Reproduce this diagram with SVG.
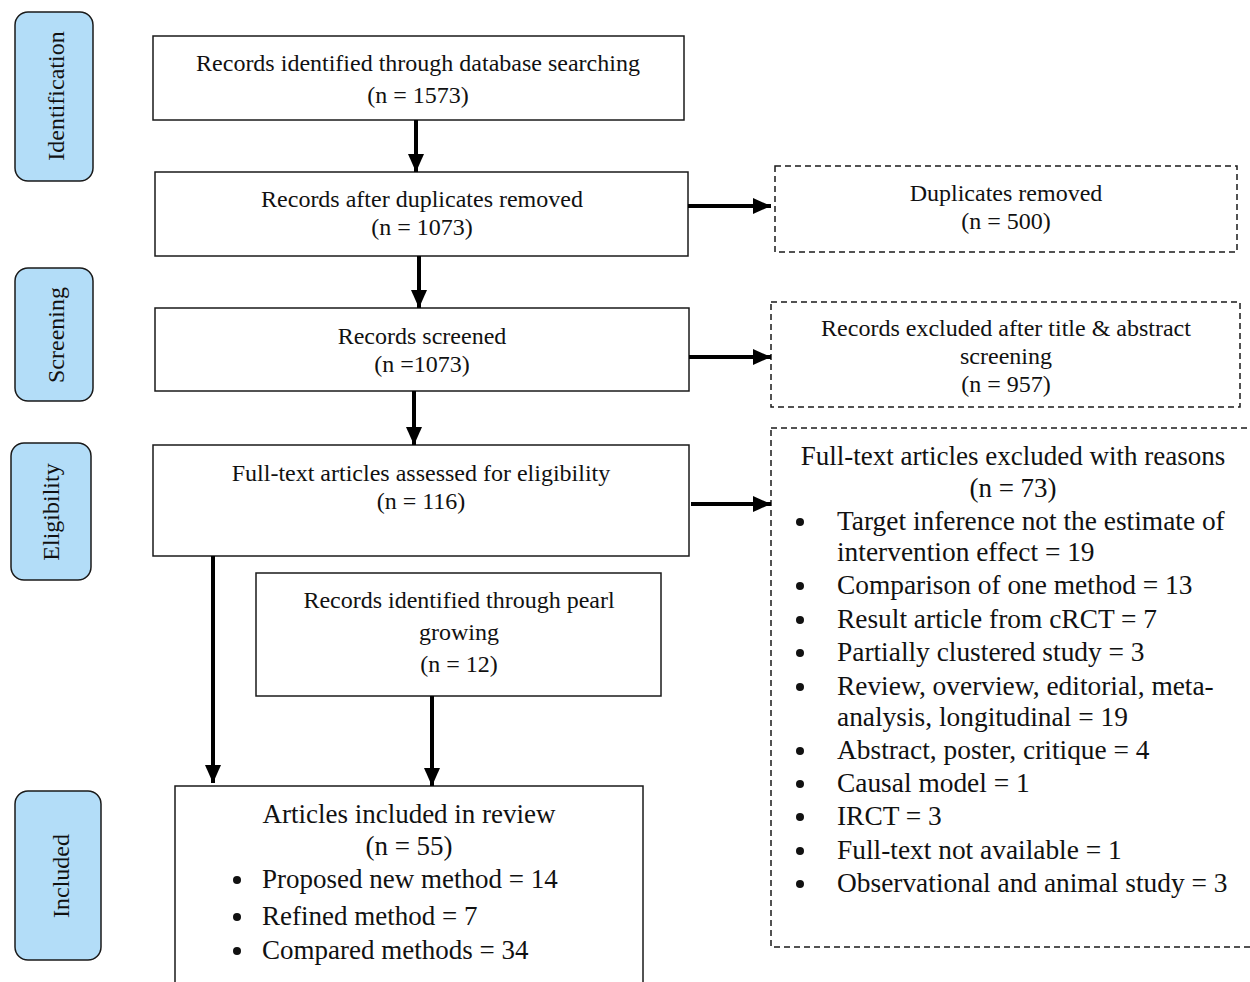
<svg xmlns="http://www.w3.org/2000/svg" width="1250" height="982" viewBox="0 0 1250 982">
<style>
  .box { fill: #ffffff; stroke: #1a1a1a; stroke-width: 1.5; }
  .dash { fill: #ffffff; stroke: #1a1a1a; stroke-width: 1.5; stroke-dasharray: 6 4; }
  .phase { fill: #b3ddf8; stroke: #1a1a1a; stroke-width: 1.5; }
  .t { font-family: "Liberation Serif", "Times New Roman", serif; font-size: 24px; fill: #111; text-anchor: middle; }
  .tl { font-family: "Liberation Serif", "Times New Roman", serif; font-size: 27px; fill: #111; }
  .tb { font-family: "Liberation Serif", "Times New Roman", serif; font-size: 27.4px; fill: #111; }
  .tc { font-family: "Liberation Serif", "Times New Roman", serif; font-size: 27px; fill: #111; text-anchor: middle; }
  .ph { font-family: "Liberation Serif", "Times New Roman", serif; font-size: 24px; fill: #111; text-anchor: middle; }
  .conn { stroke: #000; stroke-width: 4; fill: none; marker-end: url(#arrow); }
  .dot { fill: #111; }
</style>
<defs>
  <marker id="arrow" markerUnits="userSpaceOnUse" markerWidth="18" markerHeight="16" refX="18" refY="8" orient="auto">
    <polygon points="0,0 18,8 0,16" fill="#000"/>
  </marker>
</defs>
<rect x="0" y="0" width="1250" height="982" fill="#ffffff"/>

<g id="phase-identification">
  <rect class="phase" x="15" y="12" width="78" height="169" rx="13"/>
  <text class="ph" transform="translate(64,96) rotate(-90)">Identification</text>
</g>
<g id="phase-screening">
  <rect class="phase" x="15" y="268" width="78" height="133" rx="13"/>
  <text class="ph" transform="translate(64,335) rotate(-90)">Screening</text>
</g>
<g id="phase-eligibility">
  <rect class="phase" x="11" y="443" width="80" height="137" rx="13"/>
  <text class="ph" transform="translate(59,512) rotate(-90)">Eligibility</text>
</g>
<g id="phase-included">
  <rect class="phase" x="15" y="791" width="86" height="169" rx="13"/>
  <text class="ph" transform="translate(69,876) rotate(-90)">Included</text>
</g>

<g id="node-identified">
  <rect class="box" x="153" y="36" width="531" height="84"/>
  <text class="t" x="418" y="71">Records identified through database searching</text>
  <text class="t" x="418" y="103">(n = 1573)</text>
</g>
<g id="node-deduplicated">
  <rect class="box" x="155" y="172" width="533" height="84"/>
  <text class="t" x="422" y="207">Records after duplicates removed</text>
  <text class="t" x="422" y="235">(n = 1073)</text>
</g>
<g id="node-duplicates">
  <rect class="dash" x="775" y="166" width="462" height="86"/>
  <text class="t" x="1006" y="201">Duplicates removed</text>
  <text class="t" x="1006" y="229">(n = 500)</text>
</g>
<g id="node-screened">
  <rect class="box" x="155" y="308" width="534" height="83"/>
  <text class="t" x="422" y="344">Records screened</text>
  <text class="t" x="422" y="372">(n =1073)</text>
</g>
<g id="node-excluded-title">
  <rect class="dash" x="771" y="302" width="469" height="105"/>
  <text class="t" x="1006" y="336">Records excluded after title &amp; abstract</text>
  <text class="t" x="1006" y="364">screening</text>
  <text class="t" x="1006" y="392">(n = 957)</text>
</g>
<g id="node-fulltext">
  <rect class="box" x="153" y="445" width="536" height="111"/>
  <text class="t" x="421" y="481">Full-text articles assessed for eligibility</text>
  <text class="t" x="421" y="509">(n = 116)</text>
</g>
<g id="node-excluded-fulltext">
  <rect class="dash" x="771" y="428" width="490" height="519"/>
  <text class="tc" x="1013" y="465">Full-text articles excluded with reasons</text>
  <text class="tc" x="1013" y="497">(n = 73)</text>
  <circle class="dot" cx="800" cy="522" r="4"/>
  <text class="tb" x="837" y="530">Target inference not the estimate of</text>
  <text class="tb" x="837" y="561">intervention effect = 19</text>
  <circle class="dot" cx="800" cy="586" r="4"/>
  <text class="tb" x="837" y="594">Comparison of one method = 13</text>
  <circle class="dot" cx="800" cy="620" r="4"/>
  <text class="tb" x="837" y="628">Result article from cRCT = 7</text>
  <circle class="dot" cx="800" cy="653" r="4"/>
  <text class="tb" x="837" y="661">Partially clustered study = 3</text>
  <circle class="dot" cx="800" cy="687" r="4"/>
  <text class="tb" x="837" y="695">Review, overview, editorial, meta-</text>
  <text class="tb" x="837" y="726">analysis, longitudinal = 19</text>
  <circle class="dot" cx="800" cy="751" r="4"/>
  <text class="tb" x="837" y="759">Abstract, poster, critique = 4</text>
  <circle class="dot" cx="800" cy="784" r="4"/>
  <text class="tb" x="837" y="792">Causal model = 1</text>
  <circle class="dot" cx="800" cy="817" r="4"/>
  <text class="tb" x="837" y="825">IRCT = 3</text>
  <circle class="dot" cx="800" cy="851" r="4"/>
  <text class="tb" x="837" y="859">Full-text not available = 1</text>
  <circle class="dot" cx="800" cy="884" r="4"/>
  <text class="tb" x="837" y="892">Observational and animal study = 3</text>
</g>
<g id="node-pearl">
  <rect class="box" x="256" y="573" width="405" height="123"/>
  <text class="t" x="459" y="608">Records identified through pearl</text>
  <text class="t" x="459" y="640">growing</text>
  <text class="t" x="459" y="672">(n = 12)</text>
</g>
<g id="node-included">
  <rect class="box" x="175" y="786" width="468" height="210"/>
  <text class="tc" x="409" y="823">Articles included in review</text>
  <text class="tc" x="409" y="855">(n = 55)</text>
  <circle class="dot" cx="237" cy="880" r="4"/>
  <text class="tl" x="262" y="888">Proposed new method = 14</text>
  <circle class="dot" cx="237" cy="917" r="4"/>
  <text class="tl" x="262" y="925">Refined method = 7</text>
  <circle class="dot" cx="237" cy="951" r="4"/>
  <text class="tl" x="262" y="959">Compared methods = 34</text>
</g>

<g id="connectors">
  <line class="conn" x1="416" y1="120" x2="416" y2="172"/>
  <line class="conn" x1="419" y1="256" x2="419" y2="308"/>
  <line class="conn" x1="414" y1="391" x2="414" y2="445"/>
  <line class="conn" x1="688" y1="206" x2="771" y2="206"/>
  <line class="conn" x1="689" y1="357" x2="771" y2="357"/>
  <line class="conn" x1="691" y1="504" x2="771" y2="504"/>
  <line class="conn" x1="213" y1="556" x2="213" y2="783"/>
  <line class="conn" x1="432" y1="696" x2="432" y2="786"/>
</g>
</svg>
